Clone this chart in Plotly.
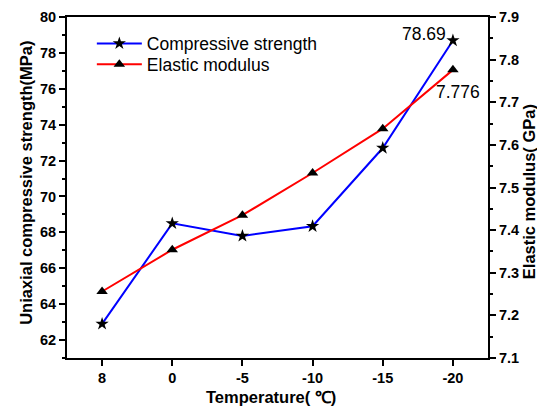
import plotly.graph_objects as go

temps = ["8", "0", "-5", "-10", "-15", "-20"]
strength = [62.9, 68.5, 67.8, 68.34, 72.7, 78.69]
modulus = [7.256, 7.354, 7.435, 7.534, 7.638, 7.776]

FONT = "Liberation Sans, Arial, sans-serif"

fig = go.Figure()
fig.add_trace(go.Scatter(
    x=temps, y=strength, name="Compressive strength", mode="lines+markers",
    line=dict(color="#0000ff", width=2),
    marker=dict(symbol="star", size=10, color="black"),
    yaxis="y", legend="legend"))
fig.add_trace(go.Scatter(
    x=temps, y=modulus, name="Elastic modulus", mode="lines+markers",
    line=dict(color="#ff0000", width=2),
    marker=dict(symbol="triangle-up", size=10, color="black"),
    yaxis="y2", legend="legend2"))

last = len(temps) - 1
fig.add_annotation(x=last, y=strength[last], xref="x", yref="y",
                   text=f"{strength[last]:.2f}", showarrow=False,
                   xanchor="right", yanchor="middle", xshift=-5, yshift=7,
                   font=dict(family=FONT, size=17.5, color="black"))
fig.add_annotation(x=last, y=modulus[last], xref="x", yref="y2",
                   text=f"{modulus[last]:.3f}", showarrow=False,
                   xanchor="right", yanchor="middle", xshift=29, yshift=-22,
                   font=dict(family=FONT, size=17.5, color="black"))

TITLE_FONT = dict(family=FONT, size=16.5, color="black", weight="bold")
fig.add_annotation(x=-0.098, y=0.513, xref="paper", yref="paper",
                   text="Uniaxial compressive strength(MPa)", textangle=-90,
                   showarrow=False, xanchor="center", yanchor="middle", font=TITLE_FONT)
fig.add_annotation(x=1.098, y=0.487, xref="paper", yref="paper",
                   text="Elastic modulus( GPa)", textangle=-90,
                   showarrow=False, xanchor="center", yanchor="middle", font=TITLE_FONT)
fig.add_annotation(x=0.485, y=-0.113, xref="paper", yref="paper",
                   text="Temperature( ℃)",
                   showarrow=False, xanchor="center", yanchor="middle", font=TITLE_FONT)

axis_common = dict(showline=True, linecolor="black", linewidth=2,
                   ticks="outside", tickcolor="black", tickwidth=2, ticklen=6,
                   showgrid=False, zeroline=False, automargin=False,
                   tickprefix="<b>", ticksuffix="</b>",
                   tickfont=dict(family=FONT, size=14.5, color="black", weight="bold"))

legend_common = dict(xanchor="left", yanchor="top", bgcolor="rgba(0,0,0,0)",
                     font=dict(family=FONT, size=17.5), itemwidth=45)

fig.update_layout(
    width=537, height=409,
    margin=dict(l=67, r=49, t=17, b=51),
    paper_bgcolor="white", plot_bgcolor="white",
    font=dict(family=FONT, color="black"),
    showlegend=True,
    legend=dict(x=0.059, y=0.975, **legend_common),
    legend2=dict(x=0.059, y=0.9135, **legend_common),
    xaxis=dict(**axis_common, type="category", range=[-0.5, 5.5], mirror=True),
    yaxis=dict(**axis_common, range=[61, 80], dtick=2, tick0=0,
               minor=dict(dtick=1, ticks="outside", ticklen=3, tickcolor="black", tickwidth=2)),
    yaxis2=dict(**axis_common, overlaying="y", side="right", anchor="x",
                range=[7.1, 7.9], dtick=0.1, tick0=7.1, tickformat=".1f",
                minor=dict(dtick=0.05, ticks="outside", ticklen=3, tickcolor="black", tickwidth=2)),
)

fig.write_html("out.html", config={"displayModeBar": False},
               post_script="document.body.style.margin='0';document.body.style.overflow='hidden';")
